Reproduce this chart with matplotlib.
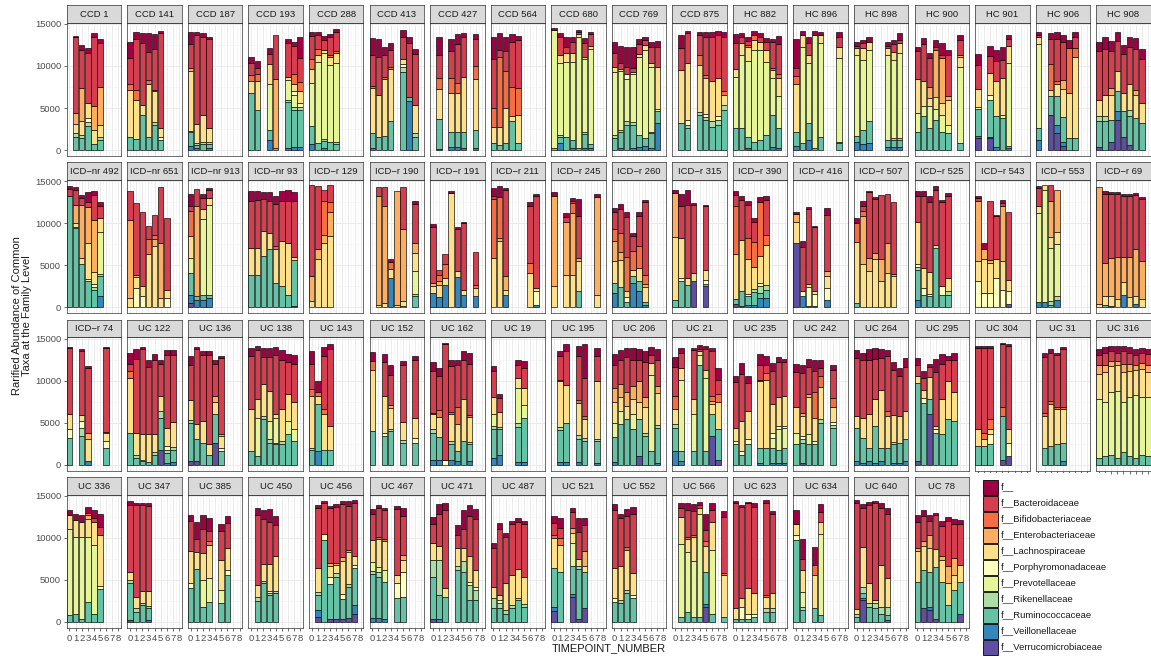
import matplotlib.pyplot as plt
from matplotlib.patches import Rectangle

plt.rcParams['font.family'] = ['Liberation Sans', 'DejaVu Sans']

# families, top of the stack first (legend order)
family_labels = ["f__", "f__Bacteroidaceae", "f__Bifidobacteriaceae", "f__Enterobacteriaceae",
                 "f__Lachnospiraceae", "f__Porphyromonadaceae", "f__Prevotellaceae",
                 "f__Rikenellaceae", "f__Ruminococcaceae", "f__Veillonellaceae",
                 "f__Verrucomicrobiaceae"]
family_codes = ["X", "B", "F", "E", "L", "Y", "P", "K", "R", "V", "M"]
family_colors = ["#9E0142", "#D53E4F", "#F46D43", "#FDAE61", "#FEE08B", "#FFFFBF",
                 "#E6F598", "#ABDDA4", "#66C2A5", "#3288BD", "#5E4FA2"]

# per panel: name, timepoints, one string per bar (family code + abundance in thousands)
row1 = [
    ("CCD 1", [1, 2, 3, 4, 5], ["R1.6 K.4 L1.1 E1.3 B9.0 X.2", "R1.4 K.4 L1.6 E4.0 B4.5 X.6",
        "R2.9 K.4 Y.5 L1.8 B5.9 X.6", "R.7 L1.7 E2.8 B8.3 X.4", "R1.2 K.3 L1.5 E4.5 B5.2 X.5"]),
    ("CCD 141", [0, 1, 2, 3, 4, 5], ["R1.6 L5.6 F.6 B3.2 X1.8", "R1.3 L4.7 F1.2 B6.0 X.8",
        "R4.2 L1.2 B7.3 X1.2", "R1.6 L6.3 F.4 B3.4 X2.2", "R3.0 K.3 L3.7 F.2 B4.8 X1.8",
        "R1.2 Y.3 L1.1 B11.3 X.3"]),
    ("CCD 187", [0, 1, 2, 3], ["V.5 R1.6 K.2 L7.1 E.4 B2.8 X1.4", "V.2 R.4 K.2 L2.3 B10.6 X.4",
        "R.7 K.2 L3.3 B9.3 X.4", "V.2 R.5 K.3 L1.6 B10.6 X.3"]),
    ("CCD 193", [0, 1, 3, 4, 6, 7, 8], ["R6.8 L1.4 F.7 B1.4 X.8", "R4.8 L3.4 F.8 B.8 X.8",
        "V1.2 R1.2 P5.4 L2.4 B1.2 X.7", "R.3 E8.2 B5.2", "V.3 R5.4 K.2 P2.4 L.4 B4.0 X.5",
        "V.4 R4.4 K.3 Y.4 P1.5 L.8 F1.2 B3.4 X.5", "V.4 R4.4 K.3 Y.5 L1.4 F1.1 B2.8 X2.5"]),
    ("CCD 288", [0, 1, 2, 3, 4], ["V.7 R2.2 P5.1 L1.6 F1.2 B2.8 X.5", "R.8 P9.7 L.8 F.7 B1.7 X.4",
        "V.3 R.8 K.2 P10.2 L.4 B1.2 X.5", "R1.0 P9.1 L1.0 F.2 B2.2 X.3",
        "R.7 K.3 P9.3 L1.2 F.3 B2.3 X.3"]),
    ("CCD 413", [0, 1, 2, 3, 5, 6, 7], ["V.2 R1.8 L5.4 F.2 B3.7 X2.0", "R1.6 L5.0 B4.5 X2.1",
        "R1.7 L6.7 F.3 B2.6 X.9", "R3.4 L6.3 F.2 B2.0 X.8", "R9.3 K.6 Y.3 L.6 B2.6 X.9",
        "V5.8 R.5 B6.4 X.7", "R1.6 K.4 L3.4 B6.0 X.6"]),
    ("CCD 427", [1, 3, 4, 5, 7], ["V.1 R3.6 L3.6 F1.3 B2.7 X2.2", "V.4 R1.8 L4.6 F1.8 B3.2 X1.4",
        "V.4 R1.8 L4.6 F1.2 B4.6 X1.2", "V.2 R2.0 L6.5 B4.8 X.4", "V.2 R2.2 L6.0 F1.6 B3.2 X.6"]),
    ("CCD 564", [0, 1, 2, 3, 4], ["R.8 L2.0 F2.2 B5.8 X2.7", "R.6 L2.2 F8.3 B.8 X2.0",
        "R.8 L4.2 F4.4 B2.4 X1.7", "R3.5 L.5 F3.5 B5.4 X.9", "R.8 L3.4 F3.2 B5.7 X.5"]),
    ("CCD 680", [0, 1, 2, 3, 4, 5, 6], ["R.2 P14.1 X.2", "V.8 R.8 K.2 P8.5 L1.0 B2.1 X.5",
        "R1.6 P8.9 L1.0 B.7 X1.2", "V.2 R1.0 P9.3 L1.1 B1.3 X.5", "R.3 P13.2 L.3 B.2 X.3",
        "V.3 R1.6 K.2 P8.7 L.3 B1.6 X.6", "V.3 R.4 P11.3 L.4 B1.4 X.2"]),
    ("CCD 769", [0, 1, 2, 3, 4, 5, 6, 7], ["R1.4 K.4 P7.5 L.6 B1.6 X1.3",
        "V.2 R2.0 K.2 P7.0 L.3 B.7 X2.0", "R3.0 K.5 Y.6 P5.0 B.8 X2.3",
        "V.2 R2.8 K.3 P5.7 L.3 B.5 X2.4", "V.4 R1.4 P9.3 L.3 B1.2 X.6",
        "V.5 R.9 P10.5 L.6 B.6 X.3", "V.2 R1.8 K.2 P7.7 L.4 B2.0 X.6", "V3.2 R1.5 Y.2 L5.0 B2.4 X.7"]),
    ("CCD 875", [1, 2, 4, 5, 6, 7, 8], ["R3.2 L6.3 B2.6 X1.6", "R2.6 K.4 Y.6 L6.8 B3.5 X.3",
        "R4.2 K.3 L5.6 F1.2 B2.4 X.4", "R3.6 K.3 Y.4 L4.3 F.3 B4.6 X.5", "R2.8 K.6 L4.8 B5.3 X.5",
        "R3.0 K.6 Y.4 L4.6 B5.1 X.5", "R4.8 K.5 L1.3 F.4 B6.5 X.5"]),
    ("HC 882", [0, 1, 2, 3, 4, 5, 6, 7], ["R2.6 P6.1 L1.0 B3.0 X1.1", "R2.6 P8.7 L1.4 B.8 X.4",
        "M.3 R1.2 P9.1 L1.6 F.3 B.5 X.4", "R1.0 P10.9 L1.2 F.6 X.5", "R1.2 P10.7 L1.0 B.6 X.4",
        "R1.8 P8.7 L1.4 B1.0 X.4", "V.4 R3.8 P4.4 L.9 F.3 B3.0 X.4",
        "V.2 R2.4 P3.8 L2.2 F.4 B3.6 X1.0"]),
    ("HC 896", [0, 1, 2, 3, 4, 7], ["V.5 R1.6 L5.7 F1.0 B1.0 X3.4", "R.8 P11.5 L1.4 X.5",
        "V1.2 R2.0 P7.1 L1.0 B1.4 X.8", "R.2 P13.5 X.5", "R1.6 P11.1 L1.0 X.3",
        "R.8 K.2 P9.9 L1.4 B1.2 X.5"]),
    ("HC 898", [0, 1, 2, 5, 6, 7], ["V1.0 R.7 P9.6 L.8 B.3 X.5", "V.7 R1.7 P8.3 L1.4 B.6 X.4",
        "V.8 R2.6 P8.5 L1.0 X.5", "V.4 R.8 P10.1 L.8 B.3 X.4", "V.4 R.8 K.2 P9.3 L1.0 B.9 X.5",
        "V.4 R.8 K.2 P10.1 L1.2 B.4 X.8"]),
    ("HC 900", [0, 1, 2, 3, 4, 5, 7], ["R2.2 P2.2 L4.0 B3.4 X.5", "R4.0 P1.2 L3.0 B4.4 X.7",
        "R2.6 P2.6 L1.0 E1.3 B3.4 X.6", "R3.6 P1.3 L1.4 E5.6 B.4 X.8",
        "R2.2 P2.0 L1.4 E5.3 B.4 X1.4", "R2.0 P1.0 L3.0 E.4 B4.9 X.6", "R.8 P9.1 L1.2 E.2 B1.8 X.6"]),
    ("HC 901", [0, 2, 3, 4, 5], ["M1.4 V.3 R3.2 Y.2 L2.2 B2.8 X1.3",
        "M1.4 V.2 R4.4 Y.6 L2.6 B2.0 X1.2", "V.4 R3.6 L4.2 B2.4 X1.3", "R3.8 P.4 L4.4 B2.1 X1.5",
        "V.2 R.3 P9.9 L2.0 B.8 X.5"]),
    ("HC 906", [0, 2, 3, 4, 5, 6], ["V1.2 R1.4 P10.0 L.8 B.3 X.3", "M4.2 R2.2 L.8 F3.0 B3.0 X.7",
        "M2.0 V1.0 R3.4 L1.4 F.4 B5.0 X.8", "M.5 V.4 R3.0 L3.4 E1.0 B4.5 X.9",
        "R1.4 L5.4 F5.3 X1.0", "R1.4 L9.7 F1.0 B1.4 X.5"]),
    ("HC 908", [0, 1, 2, 3, 4, 5, 6, 7], ["M.4 R3.0 K.6 L2.0 B5.8 X1.0", "R3.5 K.6 L2.4 B5.5 X1.5",
        "M1.0 R2.6 L3.0 E.8 B4.4 X1.2", "M3.6 V1.0 R2.4 L2.4 B3.6 X1.0", "M1.6 R3.0 L2.2 B4.6 X1.1",
        "M.6 R3.4 K.8 L3.0 B4.5 X1.2", "R3.8 L2.8 E.6 B4.8 X1.3", "R3.2 L2.4 B5.2 X1.2"]),
]

row2 = [
    ("ICD\u2212nr 492", [0, 1, 2, 3, 4, 5], ["R13.2 B.9 X.3", "R9.4 K.2 L.4 E2.2 B1.8 X.3",
        "R5.1 L.8 E6.3 B.8 X.4", "R3.1 Y.3 L4.3 E4.2 B.6 X1.2", "R2.1 K.3 Y.4 L1.4 E6.2 B3.0 X.4",
        "V1.3 R2.4 K.3 P5.0 L1.6 B1.4 X.5"]),
    ("ICD\u2212nr 651", [0, 1, 2, 3, 4, 5, 6], ["L1.1 E9.3 B3.5", "Y2.3 L1.3 E.3 B8.5",
        "Y1.3 L1.2 B8.9", "L6.3 F1.8 B1.6", "L7.3 F.5 E.8 B2.4", "L1.1 E6.5 B6.7", "Y1.1 L1.0 B8.5"]),
    ("ICD\u2212nr 913", [0, 1, 2, 3], ["M.5 V1.0 R2.6 P1.8 L2.6 F3.0 B.6 X1.4",
        "V.9 R.4 E10.7 B2.1", "V.9 R.6 P9.0 L1.2 B1.3 X.5", "V1.1 R.4 P10.7 L.8 B1.0 X.2"]),
    ("ICD\u2212nr 93", [0, 1, 2, 3, 4, 5, 6, 7], ["R3.8 L3.3 B5.6 X1.2", "R3.9 L3.2 B5.7 X1.0",
        "R6.1 L3.0 B3.8 X.8", "R6.9 L2.0 B3.7 X1.1", "R2.9 L4.0 F.4 B5.0 X1.0",
        "R2.5 L5.4 B4.8 X1.1", "R1.5 L6.2 B5.0 X1.3", "V.2 R5.4 L.4 B6.7 X1.0"]),
    ("ICD\u2212r 129", [0, 1, 2, 3], ["L.7 E3.0 B10.8", "L5.7 E1.2 B7.5", "L7.7 E.9 F4.0 B1.4",
        "L8.5 E2.8 F1.2 B2.0"]),
    ("ICD\u2212r 190", [1, 2, 3, 4, 5, 7], ["L.3 E12.9 B1.1", "L.5 E11.5 B2.3", "V3.5 L1.1 F.8 X.3",
        "L.3 E13.6", "Y.2 L.6 E8.5 B5.0", "R1.3 K.3 P2.7 L2.2 E1.2 B4.6 X.4"]),
    ("ICD\u2212r 191", [0, 1, 2, 3, 4, 5, 7], ["V1.7 L.8 E.4 B6.7 X.3", "V1.2 L1.5 E.4 F.8 B.5",
        "V2.7 L.8 F1.6 B1.2", "L13.6 X.2", "V3.6 L.7 B5.0 X.2", "V1.5 L.6 B7.9 X.2",
        "V1.3 L1.0 F.3 B4.0"]),
    ("ICD\u2212r 211", [0, 1, 2, 6, 7], ["L5.9 F7.0 B.4 X.9", "L7.9 E.4 F4.8 X1.3",
        "V1.5 L.6 E1.6 B10.3 X.2", "L4.1 F1.2 B6.7 X.5", "V.3 Y1.6 L.4 B10.9 X.3"]),
    ("ICD\u2212r 245", [0, 2, 3, 4, 7], ["L2.5 E10.7 X.5", "L3.9 E6.3 B.5 X.5",
        "L3.9 E7.3 F1.2 B.3 X.3", "R1.9 L3.6 E.4 B5.0 X2.0", "L1.5 E11.6 X.4"]),
    ("ICD\u2212r 260", [0, 1, 2, 3, 4, 5], ["V1.7 R1.2 L2.6 E2.4 F1.4 B2.0 X.5",
        "R2.4 L3.2 E1.0 F2.2 B2.9 X.6", "R.6 Y.6 L.8 F4.0 B4.8 X.6", "V2.9 R.8 L.8 F2.2 B1.8 X.3",
        "V1.9 R1.2 L1.6 F2.6 B3.6 X.4", "V.3 R.3 L1.8 E.4 F1.0 B8.7 X.3"]),
    ("ICD\u2212r 315", [0, 1, 2, 3, 5], ["R.9 L7.5 E5.2 X.4", "R3.1 Y.4 L4.8 B3.8 X1.4",
        "R2.7 L.8 B8.7 X1.8", "M3.1 L1.0 B8.1 X.2", "M2.5 R.3 Y.4 L1.2 B7.6 X.2"]),
    ("ICD\u2212r 390", [0, 1, 2, 3, 4, 5], ["M.4 R.6 L5.4 F5.6 B1.4 X.4", "V.2 R1.8 L6.0 B4.8 X.5",
        "V.3 R1.0 Y.3 L4.2 F2.4 B4.0 X.5", "V.3 R1.5 K.4 L2.6 F3.0 B2.4 X.4",
        "V1.1 R.6 K.8 Y.4 L3.2 F6.4 X.6", "V1.1 R1.0 K.6 L4.7 F1.2 B4.2 X.4"]),
    ("ICD\u2212r 416", [0, 1, 2, 3, 5], ["M7.7 L2.4 E1.0 X.3", "V1.3 Y.6 B5.3 X.7",
        "V.2 Y2.2 L.4 B8.9 X.2", "V.2 Y1.4 L.4 B7.5 X.2", "V.9 Y1.4 L1.4 E.6 B6.7 X.8"]),
    ("ICD\u2212r 507", [0, 1, 2, 3, 4, 5, 6], ["R.5 L7.3 F2.2 X.6", "L5.1 E5.8 F.6 B.5 X.6",
        "L4.3 E1.6 B7.8 X.2", "L5.7 E.8 B6.4 X.2", "L3.1 E2.6 B7.7", "L4.1 E3.6 B5.8",
        "L3.7 E.3 B8.5"]),
    ("ICD\u2212r 525", [0, 1, 2, 3, 4, 5], ["V.9 R3.6 K.3 Y.3 L5.0 B3.2 X.6",
        "R1.5 Y.8 L2.4 B8.5 X.7", "R1.3 Y.3 L2.6 B8.3 X.7", "R7.1 L.3 B6.6 X.4",
        "R1.5 Y1.0 B10.0 X.3", "R1.5 K.4 L1.6 B9.7 X.4"]),
    ("ICD\u2212r 543", [0, 1, 2, 3, 4, 5], ["Y3.1 L2.4 E7.1 B.4 X.2", "Y1.7 L4.0 E1.2 X.8",
        "Y1.7 L3.6 E.3 B7.1", "Y3.5 L2.2 B5.2 X.1", "Y2.1 L3.4 E6.5 B.4 X.4", "M.4 Y1.6 L1.2 B8.2"]),
    ("ICD\u2212r 553", [0, 1, 2, 3], ["V.6 P10.6 L.8 B2.2 X.2", "V.6 P13.4 L.5",
        "R.3 K.5 P6.3 L1.3 E4.2 B1.9", "V.9 K.5 P6.1 L1.5 E5.0"]),
    ("ICD\u2212r 69", [0, 1, 2, 3, 4, 5, 6, 7], ["L.4 E13.9", "R.3 L1.0 E4.0 B8.2 X.3",
        "V.2 L1.2 E4.5 B7.6 X.2", "L1.0 E5.0 B7.5 X.2", "V1.5 L1.5 E3.0 B7.3 X.2",
        "L1.2 E4.8 B7.3 X.2", "V.4 L1.0 E5.5 B6.5 X.2", "L1.0 E4.5 B7.4 X.2"]),
]

row3 = [
    ("ICD\u2212r 74", [0, 2, 3, 6], ["R3.2 Y1.0 L1.8 B7.9 X.1", "R3.4 K1.0 Y.8 L.7 B7.6 X.2",
        "V.4 L2.6 E.8 B7.7 X.2", "R2.0 Y.8 L1.0 E.1 B10.0 X.1"]),
    ("UC 122", [0, 1, 2, 3, 4, 5, 6, 7], ["R3.8 L6.5 F.8 B.9 X1.3", "R.8 K.4 L2.6 B8.8 X1.1",
        "R.4 Y.2 L3.0 B10.1 X.3", "R.3 L3.4 B7.9 X.9", "R1.2 K.3 L2.2 B8.7 X.8",
        "M1.8 R3.8 K.8 L1.8 B3.8 X.4", "V.2 R1.2 K.4 Y.4 L2.2 B8.6 X.6",
        "V.3 R1.4 K.4 L3.0 B7.9 X.6"]),
    ("UC 136", [0, 1, 2, 3, 4, 5], ["M.4 R4.6 K.3 L2.4 B4.2 X1.0", "M.4 R2.6 L1.8 B8.9 X.3",
        "R2.6 L2.6 B7.9 X.4", "R1.2 L1.2 B10.7 X.4", "M2.6 R3.4 L1.4 E.8 B3.8 X.5",
        "R1.6 Y.4 L1.4 E.3 B9.0 X.2"]),
    ("UC 138", [0, 1, 2, 3, 4, 5, 6, 7], ["R1.6 L5.0 B6.3 X1.0", "R1.0 P4.6 L2.2 B5.8 X.5",
        "R5.4 K.4 L3.8 B3.2 X1.1", "R2.6 K.4 P2.2 L3.6 B4.0 X1.1", "R2.4 K.2 P3.0 L.4 B7.1 X.9",
        "R2.4 K.4 L3.8 B5.8 X1.2", "R3.6 P1.6 L3.2 B3.8 X1.0", "R2.8 P1.4 L3.3 B4.5 X1.1"]),
    ("UC 143", [0, 1, 2, 3], ["R1.8 K.2 L6.2 F.8 B3.0 X1.5", "V1.6 R5.6 L1.0 F.4 X1.4",
        "R1.8 L4.2 F.6 B6.3 X1.1", "R1.8 L2.8 B9.1 X.6"]),
    ("UC 152", [0, 2, 3, 5, 7], ["R4.0 L7.3 F1.0 X1.1", "R3.4 Y.4 L4.4 B4.0 X1.0",
        "R4.0 K.3 L2.4 E.4 B3.6 X1.1", "R2.6 K.3 L2.2 B6.7 X.5", "R2.6 Y.6 L2.4 B6.9 X.4"]),
    ("UC 162", [0, 1, 2, 3, 4, 5, 6], ["V.6 R3.2 K.4 L1.8 F.2 B5.0 X1.0",
        "V.5 R2.8 L2.4 F.8 B4.0 X1.0", "Y.6 B13.8 X.1", "V.6 R1.8 K.4 L3.2 F.3 B5.4 X.8",
        "V.4 R1.2 L3.2 F2.0 B5.0 X.7", "R2.8 L5.0 B4.6 X1.1", "V.4 R2.0 K.3 L3.0 F.2 B6.1 X1.3"]),
    ("UC 19", [0, 1, 4, 5], ["V.8 R3.4 K.4 P1.4 L2.0 B3.2 X.5", "V1.2 R3.0 K.3 L1.8 B1.6 X.5",
        "V.3 R4.2 K.4 P4.2 L1.2 B1.6 X.6", "V.3 R5.2 P1.6 L2.0 B2.4 X.8"]),
    ("UC 195", [1, 2, 4, 5, 7], ["V.3 R3.8 K.4 L5.4 F.2 B2.8 X.6", "V.3 R4.6 L4.6 B4.0 X.9",
        "V.3 R2.8 K.4 L3.8 F.4 B5.2 X1.2", "R2.8 K.4 L2.2 F.4 B4.5 X4.0",
        "V.2 R2.6 K.2 L6.9 B3.0 X1.0"]),
    ("UC 206", [0, 1, 2, 3, 4, 5, 6, 7], ["V.3 R3.0 P1.6 L2.6 E1.6 B2.8 X1.3",
        "R4.8 P1.6 L1.6 E1.6 B2.8 X1.2", "R5.4 L1.6 E1.6 B4.2 X1.1",
        "R4.2 P1.8 L1.8 E1.6 B3.0 X1.5", "M1.0 R4.4 L2.0 E2.6 B2.4 X1.3",
        "R3.4 K.4 L3.0 E1.2 B4.2 X1.3", "R1.6 P9.1 L1.4 B1.0 X.9", "V.2 R4.2 K.3 L3.8 E.8 B3.2 X1.2"]),
    ("UC 21", [0, 1, 3, 4, 5, 6, 7], ["V1.6 R2.8 K.4 L1.8 F1.6 B3.4 X1.2",
        "V.4 R1.2 P8.5 L1.4 B1.8 X.6", "R1.6 P4.4 L1.8 B5.8 X.3", "R11.9 P1.2 L.4 B.3 X.4",
        "R1.6 P8.7 L1.0 B2.4 X.4", "M3.4 R2.6 L1.2 E.4 F.6 B5.3 X.4", "M.6 R3.6 L3.2 F1.0 B1.7 X1.4"]),
    ("UC 235", [0, 1, 2, 4, 5, 6, 7, 8], ["R2.4 Y.4 L1.6 B5.4 X.8", "R1.2 Y.4 L3.6 B5.6 X1.3",
        "R2.4 Y.6 L3.4 B3.3 X.8", "V.2 R1.8 L7.9 F.2 B1.8 X1.3", "R2.0 L8.1 F.8 B1.0 X1.0",
        "V.2 R1.8 P1.2 Y.6 L3.4 B4.0 X.9", "V.2 R1.6 P2.4 Y.4 L3.4 B4.2 X.6",
        "V.2 R1.8 P2.4 Y.2 L3.6 B4.0 X.4"]),
    ("UC 242", [0, 1, 2, 3, 4, 6], ["R2.4 P1.4 L3.0 B4.2 X1.0",
        "M.2 R2.4 K.4 Y.4 L2.4 E.3 B4.8 X1.0", "R2.4 P1.2 L4.4 E.4 B3.2 X1.0",
        "R2.4 Y.4 L2.8 F3.0 B2.6 X1.3", "R5.0 K.4 L3.8 F1.4 B.9 X1.0",
        "R4.4 K.3 Y.4 L1.8 F1.0 B3.4 X.6"]),
    ("UC 264", [0, 1, 2, 3, 4, 5, 6, 7, 8], ["V.4 R4.0 L1.4 B6.9 X.9", "V.2 R3.0 L2.4 B6.8 X.9",
        "V.4 R1.6 L4.0 B6.5 X1.3", "V.2 R4.4 L3.2 B4.8 X1.3", "V.4 R1.6 L6.9 B3.8 X1.0",
        "R2.0 L3.8 F.6 B6.5 X.7", "V.2 R2.2 K.3 L3.2 B5.4 X.9", "V.2 R2.4 L3.2 B4.8 X.9",
        "V.4 R2.6 L3.4 B5.2 X1.1"]),
    ("UC 295", [0, 1, 2, 3, 4, 5, 6], ["M.4 R9.3 L.8 B1.4 X.8", "R7.3 Y.6 L1.0 B1.4 X.8",
        "M6.0 R1.8 L2.6 B1.2 X.4", "R3.8 Y.4 L.4 B6.4 X1.6", "R3.6 L4.2 B4.2 X1.2",
        "R5.4 L4.6 B2.4 X.5", "R5.2 L3.4 B3.8 X.9"]),
    ("UC 304", [0, 1, 2, 4, 5], ["R2.2 L2.0 B9.7 X.2", "R2.2 L.8 F.8 B10.1 X.2",
        "R2.4 Y1.2 L.6 F1.2 B8.5 X.2", "M.6 R5.2 F1.0 B7.5 X.2", "M1.0 Y1.6 L1.6 B9.9 X.2"]),
    ("UC 31", [1, 2, 3, 4], ["R2.0 L3.8 F.3 B6.7 X.5", "R2.2 L5.0 F.4 B5.7 X.5",
        "R2.4 L4.2 F.3 B6.2 X.2", "V.4 R2.2 L4.0 F.3 B6.9 X.2"]),
    ("UC 316", [0, 1, 2, 3, 4, 5, 6, 7, 8], ["R.8 P7.0 L3.0 E1.0 B1.2 X.7",
        "R1.0 P6.5 L3.5 E.8 B1.5 X.7", "R1.2 P7.5 L3.0 E.6 B1.2 X.6", "R.8 P8.0 L3.0 E.5 B1.0 X.8",
        "R1.5 P6.0 L3.5 E1.0 B1.5 X.6", "R1.0 P7.0 L3.2 E.8 B1.3 X.7", "R.8 P7.5 L3.0 E.6 B1.2 X.7",
        "R1.2 P6.8 L3.4 E.7 B1.2 X.6", "R1.0 P7.0 L3.0 E.8 B1.4 X.6"]),
]

row4 = [
    ("UC 336", [0, 1, 2, 3, 4, 5], ["R.8 P10.2 L1.7 X.6", "R1.0 P9.1 L2.0 X.7", "R.4 P9.7 L1.8 X.8",
        "R2.4 P7.7 L2.2 E.4 F.3 X.7", "R1.0 P8.1 L2.8 B.5 X.9", "R3.9 Y.4 L6.0 B1.0 X1.5"]),
    ("UC 347", [0, 1, 2, 3], ["M.2 R4.4 K.4 L1.0 B7.9 X.5", "R1.2 K.4 L1.4 B10.9 X.2",
        "R2.0 K.3 L1.4 B10.2 X.3", "V.2 R1.4 K.3 L1.8 B10.1 X.3"]),
    ("UC 385", [0, 1, 2, 3, 5, 6], ["R4.0 Y.6 L3.8 B3.6 X.7", "R6.3 L2.0 B1.6 X2.0",
        "R1.8 P3.2 L3.2 B2.8 X1.7", "R2.4 P2.8 L4.0 F.4 B1.2 X1.6", "R2.2 P1.6 L3.6 B3.4 X.8",
        "R5.6 Y.6 L2.6 B3.0 X.8"]),
    ("UC 450", [1, 2, 3, 4], ["R2.5 K.5 L1.4 B8.3 X.8", "R4.6 K.3 L2.0 B5.4 X1.0",
        "R3.2 K.2 Y.3 L3.2 B5.0 X1.5", "R3.4 K.3 L4.2 B3.6 X1.1"]),
    ("UC 456", [1, 2, 3, 4, 5, 6, 7], ["M.6 V.8 R1.8 K.4 L2.8 B7.1 X.4", "R9.7 Y.8 B3.6 X.3",
        "M.3 R4.2 Y.8 L1.4 E.3 B6.5 X.3", "M.4 R5.0 K.4 L1.0 E.2 B6.7 X.3",
        "M.3 R2.4 Y.6 L4.0 E.4 B6.3 X.4", "M.5 R3.6 K.4 L3.8 E.3 B5.2 X.6",
        "M1.0 V1.0 R4.4 Y.4 L1.0 B6.3 X.4"]),
    ("UC 467", [0, 1, 2, 4, 5], ["V.5 R5.2 K.4 P1.0 L2.6 B3.2 X.5",
        "V.5 R4.8 K.6 P.6 L3.4 F.2 B3.4 X.4", "V.4 R4.4 P1.4 L3.4 F.3 B3.4 X.3",
        "R2.9 Y1.7 L1.0 B7.8 X.4", "R3.0 Y3.0 L1.4 E.6 B4.6 X1.0"]),
    ("UC 471", [0, 1, 2, 4, 5, 6, 7], ["M.4 R5.0 K2.0 L2.0 B2.2 X.9",
        "V.3 R2.9 K4.2 L1.6 B3.8 X1.2", "R3.0 L1.0 B9.3 X.8", "R6.2 K.4 L2.2 B1.6 X1.1",
        "R6.0 K1.2 L1.6 B2.3 X2.2", "R2.6 K1.8 Y.4 L3.0 B4.8 X1.3", "R2.6 K1.2 Y.4 L2.0 B6.0 X1.2"]),
    ("UC 487", [0, 1, 2, 3, 4, 5], ["R1.6 K1.2 L1.4 B4.6 X.6", "R1.6 K.6 Y.4 L.6 B7.9 X.7",
        "R1.0 K.4 L3.2 B5.5 X.5", "R1.6 K.4 L3.6 B6.0 X.4", "R2.6 K.3 L3.4 B5.6 X.5",
        "R1.8 K.3 L3.2 B6.3 X.4"]),
    ("UC 521", [0, 1, 3, 4, 5], ["M1.3 V.5 R4.6 L3.6 F.4 B1.4 X.8", "R6.0 L3.2 F.8 B1.2 X1.2",
        "M3.0 V.3 R3.3 P2.8 L1.2 E.6 B1.9 X.5", "M.3 R6.0 K.4 L.8 B3.2 X1.7",
        "M1.6 R4.4 L.6 E1.8 B3.1 X.9"]),
    ("UC 552", [0, 1, 2, 3], ["R2.4 Y.4 L3.6 B6.9 X.7", "R2.2 K.4 L4.0 B5.8 X.5",
        "R3.4 K.4 L4.8 F.3 B3.7 X.8", "R2.8 Y.4 L2.6 B7.1 X.8"]),
    ("UC 566", [1, 2, 3, 4, 5, 6, 8], ["R.6 P8.7 L3.2 B1.0 X.6", "R1.2 P7.1 L1.6 F.2 B3.2 X.8",
        "R.6 P6.7 L2.8 F.2 B2.9 X.8", "R.6 P12.3 L.6 B.4 X.4", "M1.8 V.3 R3.9 L3.0 F.6 B1.3 X1.9",
        "R1.0 P7.5 L3.4 B1.4 X.9", "R.6 L5.0 F.2 B6.7 X.7"]),
    ("UC 623", [0, 1, 2, 3, 5, 6], ["R.4 L1.2 B12.5 X.3", "R.4 Y1.4 L1.0 B10.9 X.2",
        "R.4 Y.6 L3.0 B10.1 X.2", "R.6 Y.4 L2.4 B10.3 X.4", "R1.2 K.4 L1.4 F.2 B11.0 X.3",
        "R1.2 K.4 L1.8 B9.5 X.3"]),
    ("UC 634", [0, 1, 3, 4], ["R9.7 Y.6 L1.4 X1.6", "R1.4 K.4 P1.8 L2.6 B1.3 X2.4",
        "R1.6 L4.0 F1.2 X2.1", "R.8 P9.7 L1.4 B1.2 X.9"]),
    ("UC 640", [0, 1, 2, 3, 4, 5], ["R.6 K.3 L.6 B12.7 X.3", "M2.6 V.3 R.6 K.6 L4.8 B4.7 X.4",
        "R1.8 K.4 L2.4 B9.3 X.4", "R1.6 K.6 L.4 B11.5 X.3", "R1.0 K.8 L5.0 B6.7 X.7",
        "V.2 R.6 K1.0 L3.4 B7.7 X.7"]),
    ("UC 78", [0, 1, 2, 3, 4, 5, 6, 7], ["R4.8 L3.6 E.4 B3.1 X.8", "M1.6 R4.6 L2.8 E.6 B3.0 X.7",
        "M1.4 V.4 R4.2 L2.8 E1.6 B1.6 X.7", "M.3 R6.2 L2.2 B4.0 X.3", "R4.8 L2.6 E.4 B3.6 X.6",
        "R2.0 L2.6 E2.0 B5.4 X.5", "R3.8 L1.8 E2.0 B4.0 X.6", "M1.0 R3.8 L2.0 B4.8 X.5"]),
]

W, H = 1151, 660
fig = plt.figure(figsize=(W / 100, H / 100), dpi=100)

ncol = 18
left0, pitch_x, pw = 66.7, 60.56, 54.5
top0, pitch_y, sh, ph = 5.0, 157.3, 17.7, 133.4
edge = "#333333"

panels = row1 + row2 + row3 + row4
n = len(panels)
for i, (name, tps, bars) in enumerate(panels):
    r, c = divmod(i, ncol)
    x0 = left0 + c * pitch_x
    ytop = top0 + r * pitch_y
    ax = fig.add_axes([x0 / W, 1 - (ytop + sh + ph) / H, pw / W, ph / H])
    st = fig.add_axes([x0 / W, 1 - (ytop + sh) / H, pw / W, sh / H])

    # strip
    st.set_facecolor("#D9D9D9")
    st.set_xticks([])
    st.set_yticks([])
    for s in st.spines.values():
        s.set_color(edge)
        s.set_linewidth(0.5)
    st.text(0.5, 0.47, name, ha="center", va="center", fontsize=6.8, color="#1A1A1A",
            transform=st.transAxes)

    # stacked bars, bottom of stack first
    table = [dict((tok[0], float(tok[1:]) * 1000) for tok in b.split()) for b in bars]
    base = [0.0] * len(tps)
    for code, col in zip(family_codes[::-1], family_colors[::-1]):
        hs = [row.get(code, 0.0) for row in table]
        xs = [t for t, v in zip(tps, hs) if v > 0]
        bs = [b for b, v in zip(base, hs) if v > 0]
        vs = [v for v in hs if v > 0]
        if vs:
            ax.bar(xs, vs, 0.9, bottom=bs, color=col, edgecolor="black", linewidth=0.45, zorder=3)
        base = [b + v for b, v in zip(base, hs)]

    ax.set_xlim(-0.45, 8.45)
    ax.set_ylim(-720, 15150)
    ax.set_xticks(range(9))
    ax.set_xticks([k + 0.5 for k in range(8)], minor=True)
    ax.set_yticks([0, 5000, 10000, 15000])
    ax.set_yticks([2500, 7500, 12500], minor=True)
    ax.grid(which="major", color="#EBEBEB", linewidth=0.7, zorder=0)
    ax.grid(which="minor", color="#F2F2F2", linewidth=0.4, zorder=0)
    ax.set_axisbelow(True)
    for s in ax.spines.values():
        s.set_color(edge)
        s.set_linewidth(0.5)

    # x axis under the lowest panel of each column; labels only on the last row
    bottom_row = (i + ncol >= n)
    ax.tick_params(which="minor", length=0)
    ax.tick_params(axis="x", which="major", length=2.5 if bottom_row else 0, width=0.5,
                   color=edge, labelbottom=(r == 3), labelsize=6.8, labelcolor="#4D4D4D", pad=1.5)
    ax.tick_params(axis="y", which="major", length=2.5 if c == 0 else 0, width=0.5,
                   color=edge, labelleft=(c == 0), labelsize=6.8, labelcolor="#4D4D4D", pad=1.5)

# axis titles
fig.text((left0 + (ncol - 1) * pitch_x + pw + left0) / 2 / W, 1 - 648 / H, "TIMEPOINT_NUMBER",
         ha="center", va="center", fontsize=8, color="#1A1A1A")
fig.text(22 / W, 1 - 316 / H, "Rarified Abundance of Common\nTaxa at the Family Level",
         ha="center", va="center", rotation=90, fontsize=8, color="#1A1A1A", linespacing=1.1)

# legend, on a white box drawn over the empty corner
fig.patches.append(Rectangle((976 / W, 0), 130 / W, 1 - 473 / H, transform=fig.transFigure,
                             facecolor="white", edgecolor="none", zorder=10))
for k, (lab, col) in enumerate(zip(family_labels, family_colors)):
    ky = 479.5 + k * 16
    fig.patches.append(Rectangle((982.5 / W, 1 - (ky + 15) / H), 15 / W, 15 / H,
                                 transform=fig.transFigure, facecolor=col,
                                 edgecolor="black", linewidth=0.6, zorder=11))
    fig.text(1001 / W, 1 - (ky + 7.5) / H, lab, ha="left", va="center", fontsize=6.8,
             color="#1A1A1A", zorder=12)

fig.savefig("out.png", dpi=100)
